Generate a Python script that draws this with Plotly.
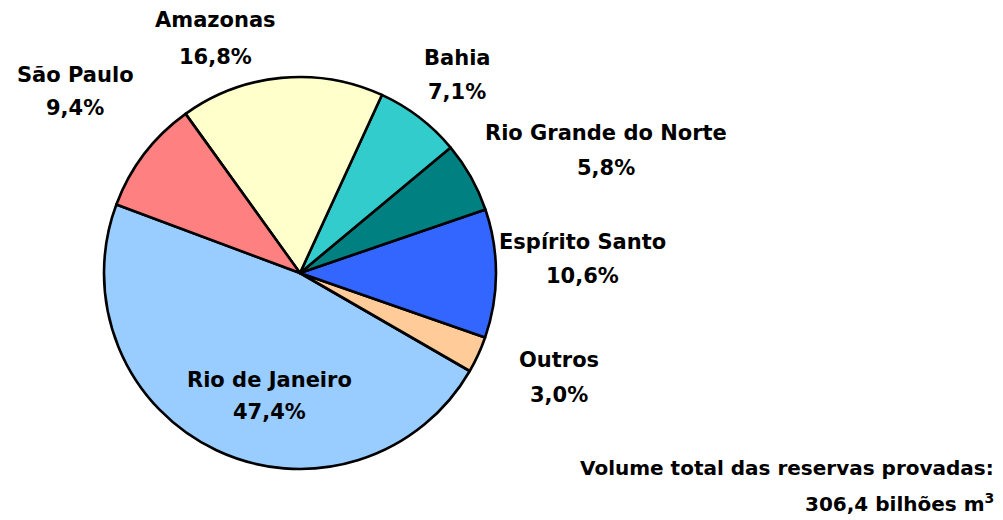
import plotly.graph_objects as go

states = ["Rio de Janeiro", "Outros", "Espírito Santo", "Rio Grande do Norte",
          "Bahia", "Amazonas", "São Paulo"]
shares = [47.4, 3.0, 10.6, 5.8, 7.1, 16.8, 9.4]
share_labels = ["47,4%", "3,0%", "10,6%", "5,8%", "7,1%", "16,8%", "9,4%"]
colors = ["#99CCFF", "#FFCC99", "#3366FF", "#008080", "#33CCCC", "#FFFFCC", "#FF8080"]

# label anchor positions in pixels: (x center, y of name line, y of percent line)
label_pos = [(269, 380, 412), (559, 360, 395), (582, 242, 276), (606, 133, 168),
             (457, 58, 92), (215, 20, 57), (75, 75, 108)]

W, H = 1003, 520
OFF = 8  # page body margin offset
FONT = "DejaVu Sans"
FS = 21


def fx(px):
    return (px - OFF) / W


def fy(py):
    return 1 - (py - OFF) / H


fig = go.Figure(go.Pie(
    labels=states, values=shares, sort=False, direction="counterclockwise",
    rotation=120, marker=dict(colors=colors, line=dict(color="black", width=2.6)),
    textinfo="none", hoverinfo="label+percent", showlegend=False,
    domain=dict(x=[fx(104), fx(496)], y=[fy(469), fy(77)]),
))


def txt(text, px, py, anchor="center", size=FS):
    fig.add_annotation(x=fx(px), y=fy(py), xref="paper", yref="paper",
                       text=text, showarrow=False, xanchor=anchor, yanchor="middle",
                       font=dict(family=FONT, size=size, color="black", weight="bold"))


for name, pct, (px, py1, py2) in zip(states, share_labels, label_pos):
    txt(name, px, py1)
    txt(pct, px, py2)

txt("Volume total das reservas provadas:", 996, 468, "right", 20)
txt("306,4 bilhões m<sup>3</sup>", 996, 503, "right", 20)

fig.update_layout(width=W, height=H, margin=dict(l=0, r=0, t=0, b=0),
                  paper_bgcolor="white", plot_bgcolor="white")
fig.write_html("out.html")
